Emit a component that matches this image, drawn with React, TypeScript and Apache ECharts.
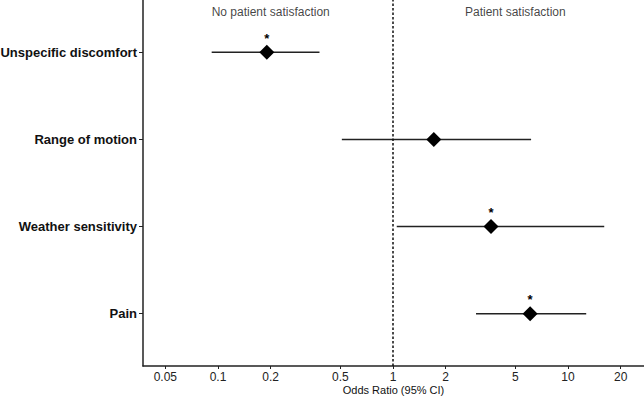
import React, { useEffect, useRef } from "react";
import * as echarts from "echarts";

// Outcomes, listed top to bottom
const outcomes = ["Unspecific discomfort", "Range of motion", "Weather sensitivity", "Pain"];
// Odds ratios with 95% confidence limits
const oddsRatio = [0.19, 1.71, 3.63, 6.07];
const ciLower = [0.092, 0.51, 1.05, 2.98];
const ciUpper = [0.38, 6.15, 16.1, 12.7];
const significant = [true, false, true, true];

// Log-scale tick labels
const xTicks = [0.05, 0.1, 0.2, 0.5, 1, 2, 5, 10, 20];

// Side headers placed at these odds ratios
const headerTexts = ["No patient satisfaction", "Patient satisfaction"];
const headerAt = [0.2, 5];

const FONT = "'Liberation Sans', Arial, sans-serif";
const INK = "#222";

export default function App() {
  const ref = useRef<HTMLDivElement>(null);

  useEffect(() => {
    document.body.style.margin = "0";
    if (!ref.current) return;
    const chart = echarts.init(ref.current, null, { renderer: "svg" });

    const n = outcomes.length;
    const yOf = (i: number) => n - i;
    const lg = (v: number) => Math.log10(v);

    const ciData = outcomes.map((_, i) => [lg(ciLower[i]), lg(ciUpper[i]), yOf(i)]);
    const pointData = outcomes.map((_, i) => ({
      value: [lg(oddsRatio[i]), yOf(i)],
      sig: significant[i],
    }));
    const headerY = n + 0.6 - 0.138;
    const headerData = headerTexts.map((t, i) => [lg(headerAt[i]), headerY, t]);

    chart.setOption({
      animation: false,
      grid: { left: 143, right: 0, top: 0, bottom: 34, outerBoundsMode: "none", containLabel: false },
      xAxis: {
        type: "value",
        min: -1.4286,
        max: 1.434,
        name: "Odds Ratio (95% CI)",
        nameLocation: "middle",
        nameGap: 18,
        nameMoveOverlap: false,
        nameTextStyle: { fontFamily: FONT, fontSize: 11, color: "#111" },
        axisLine: { show: true, onZero: false, lineStyle: { color: INK, width: 1.5 } },
        axisTick: {
          show: true,
          length: 3,
          customValues: xTicks.map(lg),
          lineStyle: { color: INK, width: 1 },
        },
        axisLabel: {
          customValues: xTicks.map(lg),
          margin: 4,
          fontFamily: FONT,
          fontSize: 12,
          lineHeight: 13,
          color: INK,
          formatter: (v: number) => {
            const t = xTicks.find((x) => Math.abs(lg(x) - v) < 1e-6);
            return t === undefined ? "" : String(t);
          },
        },
        splitLine: { show: false },
      },
      yAxis: {
        type: "value",
        min: 0.4,
        max: n + 0.6,
        axisLine: { show: true, onZero: false, lineStyle: { color: INK, width: 1.5 } },
        axisTick: {
          show: true,
          length: 4,
          customValues: outcomes.map((_, i) => yOf(i)),
          lineStyle: { color: INK, width: 1 },
        },
        axisLabel: {
          customValues: outcomes.map((_, i) => yOf(i)),
          margin: 6,
          fontFamily: FONT,
          fontSize: 13,
          fontWeight: "bold",
          color: "#111",
          formatter: (v: number) => outcomes[n - Math.round(v)] ?? "",
        },
        splitLine: { show: false },
      },
      series: [
        {
          type: "custom",
          data: ciData,
          encode: { x: [0, 1], y: 2 },
          renderItem: (_p: any, api: any) => {
            const a = api.coord([api.value(0), api.value(2)]);
            const b = api.coord([api.value(1), api.value(2)]);
            return {
              type: "line",
              shape: { x1: a[0], y1: a[1], x2: b[0], y2: b[1] },
              style: { stroke: INK, lineWidth: 1.5 },
            };
          },
          silent: true,
          z: 2,
        },
        {
          type: "scatter",
          data: pointData,
          symbol: "diamond",
          symbolSize: 15,
          itemStyle: { color: "#000", opacity: 1 },
          label: {
            show: true,
            position: "top",
            distance: 0,
            fontFamily: FONT,
            fontSize: 13,
            fontWeight: "bold",
            color: "#000",
            formatter: (p: any) => (p.data.sig ? "*" : ""),
          },
          markLine: {
            silent: true,
            symbol: "none",
            label: { show: false },
            lineStyle: { color: "#111", width: 1.5, type: [2.5, 2] },
            data: [{ xAxis: 0 }],
          },
          z: 3,
        },
        {
          type: "scatter",
          data: headerData,
          symbolSize: 0,
          silent: true,
          label: {
            show: true,
            position: "inside",
            fontFamily: FONT,
            fontSize: 12,
            color: "#111",
            formatter: (p: any) => p.value[2],
          },
        },
      ],
    });

    return () => chart.dispose();
  }, []);

  return <div ref={ref} style={{ width: 644, height: 400 }} />;
}
